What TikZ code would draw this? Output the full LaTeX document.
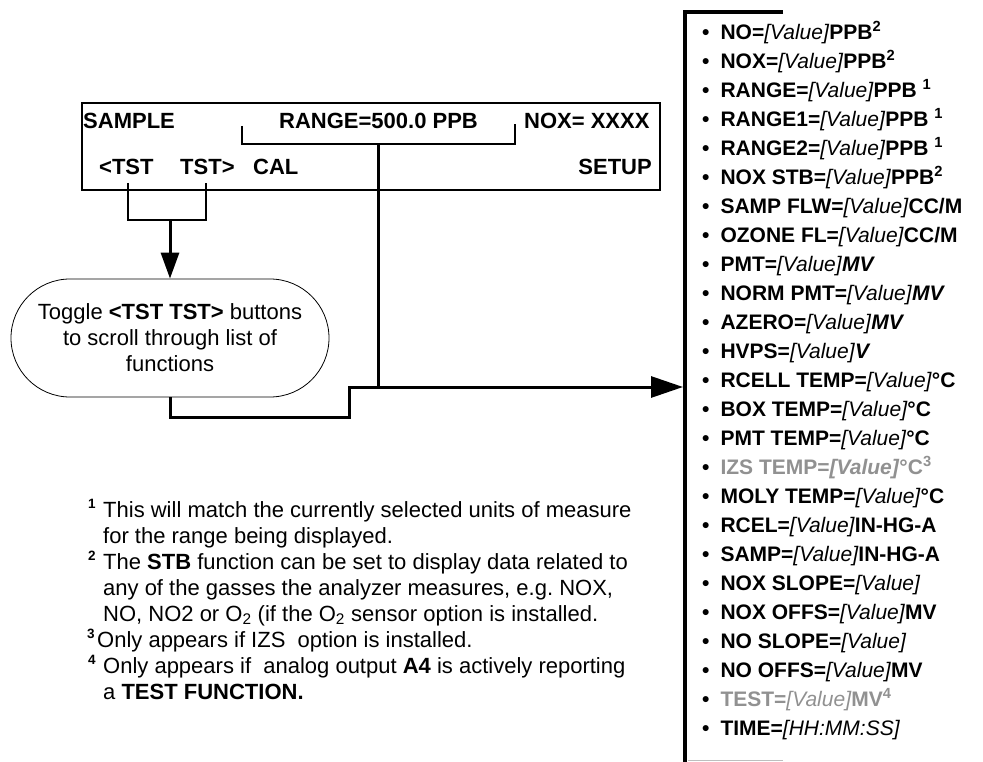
\documentclass[tikz,border=0pt]{standalone}
\usepackage{fontspec}
\setmainfont{Liberation Sans}
\usetikzlibrary{arrows.meta, positioning, calc, shapes.misc}
\definecolor{Dim}{RGB}{145,145,145}
\definecolor{Rule}{RGB}{190,190,190}
\newcommand{\val}{\textit{\mdseries [Value]}}
\newcommand{\sups}[1]{\textsuperscript{#1}}

\begin{document}
\begin{tikzpicture}[x=1pt, y=-1pt,
    lcd/.style={font=\fontsize{22}{24}\selectfont\bfseries, inner sep=0pt, anchor=base west},
    conn/.style={line width=3pt},
    arr/.style={line width=3pt, -{Triangle[length=26pt, width=18pt]}},
    entry/.style={font=\fontsize{21}{24}\selectfont\bfseries, inner sep=0pt, anchor=base west},
    note/.style={font=\fontsize{22}{26}\selectfont, inner sep=0pt, anchor=base west, align=left},
    notemark/.style={font=\fontsize{13.5}{14}\selectfont\bfseries, inner sep=0pt, anchor=base west}]
  \useasboundingbox (0,0) rectangle (983,762);

  % Front panel display
  \node[draw, line width=2pt, minimum width=578, minimum height=87, anchor=north west, inner sep=0pt] (lcd) at (81,102) {};
  \node[lcd] (sample) at (83,129) {SAMPLE};
  \node[lcd] (range) at (279,129) {RANGE=500.0 PPB};
  \node[lcd] (nox) at (524,129) {NOX= XXXX};
  \node[lcd] (tstl) at (99,175) {<TST};
  \node[lcd] (tstr) at (180,175) {TST>};
  \node[lcd] (cal) at (253,175) {CAL};
  \node[lcd, anchor=base east] (setup) at (652,175) {SETUP};

  % Bracket under the range message
  \coordinate (rangel) at (242,126);
  \coordinate (ranger) at (515,124);
  \coordinate (rangemid) at (378,144);
  \draw[line width=2pt] (rangel) |- (rangemid) -| (ranger);

  % TST buttons into the toggle note
  \coordinate (tsta) at (128,183);
  \coordinate (tstb) at (206,183);
  \coordinate (tstjoin) at (170,220);
  \draw[line width=2.5pt] (tsta) |- (tstjoin) -| (tstb);
  \node[rounded rectangle, draw, line width=0.8pt, minimum width=318, minimum height=118,
        inner sep=0pt, align=center, font=\fontsize{22}{26}\selectfont] (toggle) at (170,338)
        {Toggle \textbf{<TST TST>} buttons\\to scroll through list of\\functions};
  \draw[arr] (tstjoin) -- (toggle.north);

  % Into the list of test functions
  \coordinate (stepb) at (349,417);
  \coordinate (stepc) at (349,387);
  \coordinate (listin) at (683,387);
  \draw[conn] (rangemid) -- (rangemid |- listin);
  \draw[line width=3pt, -{Triangle[length=32pt, width=21pt]}] (toggle.south) |- (stepb) -- (stepc) -- (listin);

  % Test function list
  \draw[line width=3.5pt] (783,12) -- (685,12);
  \draw[line width=4.5pt] (685,10.25) -- (685,762);
  \draw[Rule, line width=1pt] (688,760) -- (783,760);
  \foreach \txt [count=\i] in {
      {NO=\val PPB\sups{2}},
      {NOX=\val PPB\sups{2}},
      {RANGE=\val PPB \sups{1}},
      {RANGE1=\val PPB \sups{1}},
      {RANGE2=\val PPB \sups{1}},
      {NOX STB=\val PPB\sups{2}},
      {SAMP FLW=\val CC/M},
      {OZONE FL=\val CC/M},
      {PMT=\val\textit{MV}},
      {NORM PMT=\val\textit{MV}},
      {AZERO=\val\textit{MV}},
      {HVPS=\val\textit{V}},
      {RCELL TEMP=\val°C},
      {BOX TEMP=\val°C},
      {PMT TEMP=\val°C},
      {\color{Dim}IZS TEMP=\textit{[Value]}°C\sups{3}},
      {MOLY TEMP=\val°C},
      {RCEL=\val IN-HG-A},
      {SAMP=\val IN-HG-A},
      {NOX SLOPE=\val},
      {NOX OFFS=\val MV},
      {NO SLOPE=\val},
      {NO OFFS=\val MV},
      {\color{Dim}TEST=\val MV\sups{4}},
      {TIME=\textit{\mdseries [HH:MM:SS]}}}{
    \node[entry] (item\i) at (702,10.5+29*\i) {\textbullet\hspace{11pt}\txt};
  }

  % Footnotes (base = last line)
  \node[notemark] (mark1) at (88,508) {1};
  \node[note] (note1) at (103,543) {This will match the currently selected units of measure\\for the range being displayed.};
  \node[notemark] (mark2) at (88,560) {2};
  \node[note] (note2) at (103,621) {The \textbf{STB} function can be set to display data related to\\any of the gasses the analyzer measures, e.g.\ NOX,\\NO, NO2 or O\textsubscript{2} (if the O\textsubscript{2} sensor option is installed.};
  \node[notemark] (mark3) at (87,638) {3};
  \node[note] (note3) at (97,647) {Only appears if IZS\ \ option is installed.};
  \node[notemark] (mark4) at (88,664) {4};
  \node[note] (note4) at (103,699) {Only appears if\ \ analog output \textbf{A4} is actively reporting\\a \textbf{TEST FUNCTION.}};
\end{tikzpicture}
\end{document}
